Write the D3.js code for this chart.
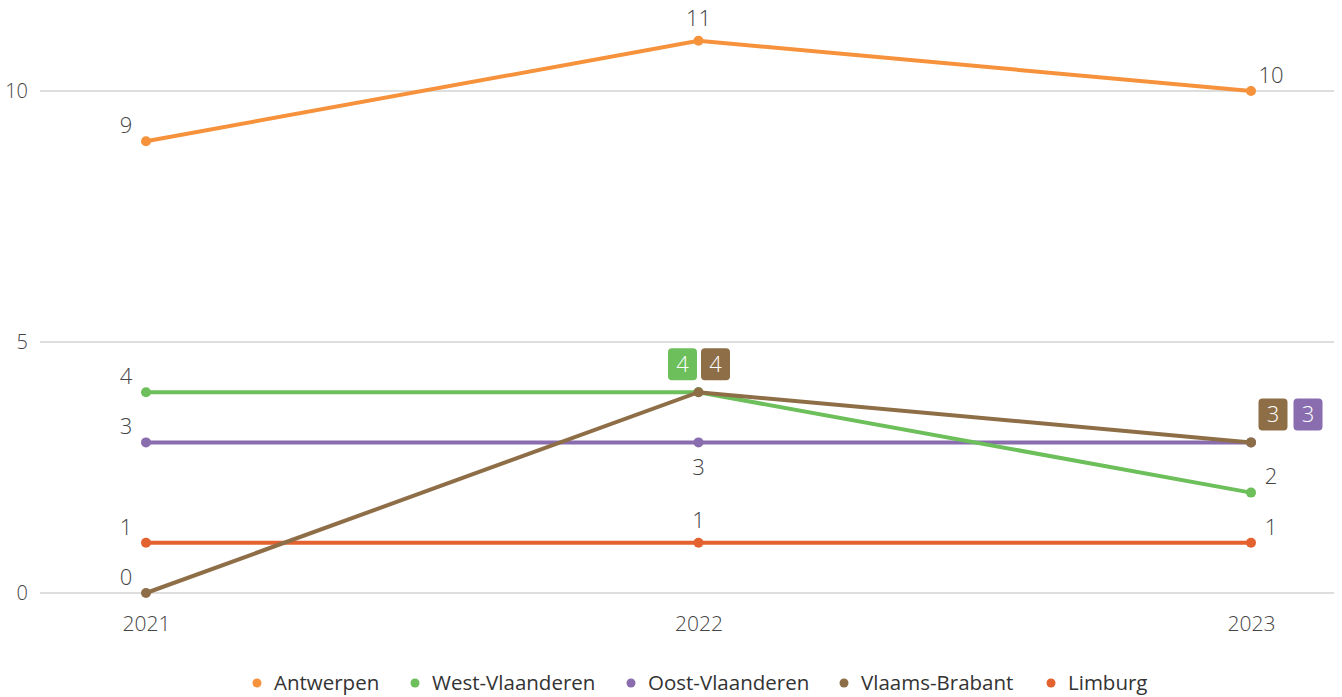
<!DOCTYPE html>
<html><head><meta charset="utf-8">
<script src="https://cdn.jsdelivr.net/npm/d3@7"></script>
<style>body{margin:0;background:#fff;font-family:"Open Sans",sans-serif;}</style>
</head><body><svg id="c" width="1342" height="697"></svg>
<script>
const years = ["2021","2022","2023"];
const seriesNames = ["Antwerpen","West-Vlaanderen","Oost-Vlaanderen","Vlaams-Brabant","Limburg"];
const colors = ["#f6923b","#6cbf5a","#8a6daf","#8e6e47","#e4622f"];
const antwerpen = [9,11,10];
const westVlaanderen = [4,4,2];
const oostVlaanderen = [3,3,3];
const vlaamsBrabant = [0,4,3];
const limburg = [1,1,1];
const yTicks = [0,5,10];
const labelPos = [
  ["l","t","r"],
  ["l","badge","r"],
  ["l","b","badge"],
  ["l","badge","badge"],
  ["l","t","r"]
];
const values = [antwerpen,westVlaanderen,oostVlaanderen,vlaamsBrabant,limburg];

const svg = d3.select("#c");
const x = d3.scalePoint().domain(years).range([146,1251]);
const y = d3.scaleLinear().domain([0,10]).range([593,91]);

const grid = svg.append("g");
grid.selectAll("line").data(yTicks).join("line")
  .attr("x1",40).attr("x2",1334).attr("y1",d=>y(d)).attr("y2",d=>y(d))
  .attr("stroke","#bdbdbd").attr("stroke-width",1.2);
grid.selectAll("text").data(yTicks).join("text")
  .attr("x",28).attr("y",d=>y(d)).attr("dy","0.35em").attr("text-anchor","end")
  .attr("font-size",20).attr("font-weight",300).attr("fill","#444").text(d=>d);

const xAxis = svg.append("g").attr("transform","translate(0,593)")
  .call(d3.axisBottom(x).tickSize(0).tickPadding(23));
xAxis.select(".domain").remove();
xAxis.selectAll("text").attr("font-size",21).attr("font-weight",300).attr("fill","#444").attr("font-family","Open Sans");

const line = d3.line().x((d,i)=>x(years[i])).y(d=>y(d));
const order = [4,2,1,3,0];
order.forEach(s=>{
  const g = svg.append("g");
  g.append("path").attr("d",line(values[s])).attr("fill","none")
    .attr("stroke",colors[s]).attr("stroke-width",4);
  g.selectAll("circle").data(values[s]).join("circle")
    .attr("cx",(d,i)=>x(years[i])).attr("cy",d=>y(d)).attr("r",5).attr("fill",colors[s]);
});

const labels = svg.append("g").attr("font-size",22).attr("font-weight",300).attr("fill","#444");
values.forEach((vals,s)=>{
  vals.forEach((v,i)=>{
    const p = labelPos[s][i];
    if(p==="badge") return;
    const cx = x(years[i]), cy = y(v);
    let tx=cx, ty=cy;
    if(p==="l"){tx=cx-20; ty=cy-16;}
    else if(p==="t"){ty=cy-23;}
    else if(p==="r"){tx=cx+20; ty=cy-16;}
    else if(p==="b"){ty=cy+25;}
    labels.append("text").attr("x",tx).attr("y",ty).attr("dy","0.35em")
      .attr("text-anchor","middle").text(v);
  });
});

const badges = [
  {s:1,i:1,off:-16},{s:3,i:1,off:17},
  {s:3,i:2,off:22},{s:2,i:2,off:57}
];
badges.forEach(b=>{
  const cx = x(years[b.i]) + b.off;
  const cy = y(values[b.s][b.i]) - 28;
  svg.append("rect").attr("x",cx-14.5).attr("y",cy-16).attr("width",29).attr("height",32)
    .attr("rx",4).attr("fill",colors[b.s]);
  svg.append("text").attr("x",cx).attr("y",cy).attr("dy","0.35em").attr("text-anchor","middle")
    .attr("font-size",22).attr("font-weight",300).attr("fill","#fff").text(values[b.s][b.i]);
});

const leg = svg.append("g").attr("transform","translate(0,683)");
const legX = [257,415,631,844,1051];
seriesNames.forEach((n,k)=>{
  leg.append("circle").attr("cx",legX[k]).attr("cy",0).attr("r",4.5).attr("fill",colors[k]);
  leg.append("text").attr("x",legX[k]+17).attr("y",0).attr("dy","0.35em")
    .attr("font-size",20.5).attr("font-weight",400).attr("fill","#333").text(n);
});
</script></body></html>
